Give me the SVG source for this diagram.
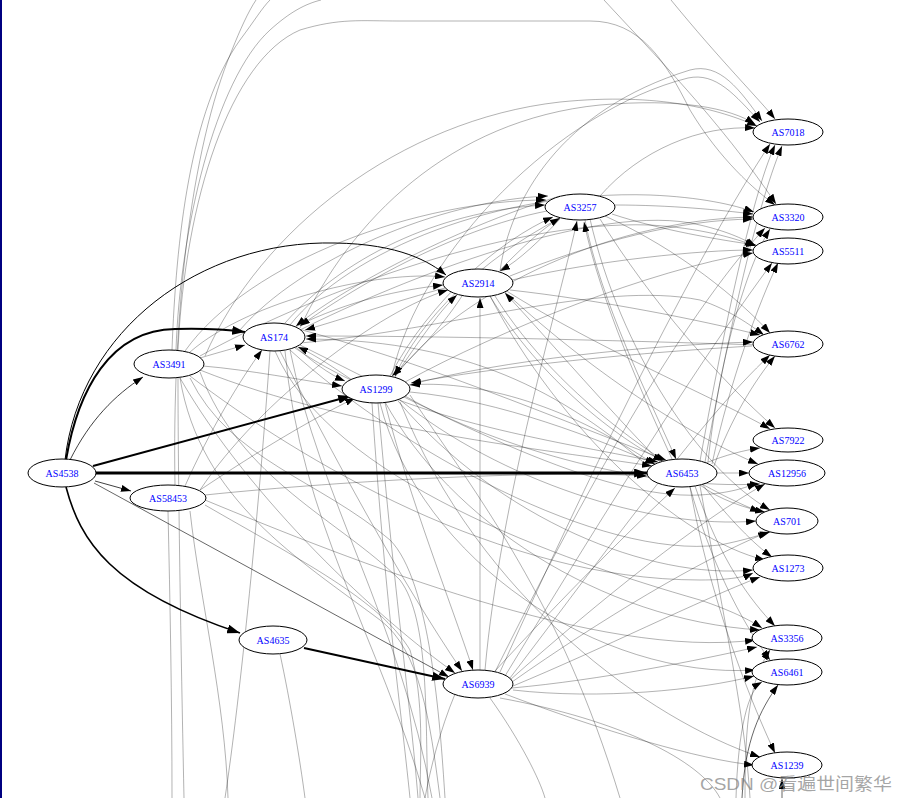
<svg xmlns="http://www.w3.org/2000/svg" width="907" height="798" viewBox="0 0 907 798">
<defs>
<style>
.e{fill:none;stroke:#000;stroke-opacity:.3;stroke-width:1}
.d{fill:none;stroke:#000;stroke-opacity:.6;stroke-width:1}
.b{fill:none;stroke:#000;stroke-width:2}
.n ellipse{fill:#fff;stroke:#000;stroke-width:1}
.n text{font-family:"Liberation Serif","Times New Roman",serif;font-size:10px;fill:#0000ff;text-anchor:middle}
</style>
<marker id="a" viewBox="0 0 10 7" refX="10" refY="3.5" markerWidth="10" markerHeight="7" orient="auto" markerUnits="userSpaceOnUse"><path d="M0,0 L10,3.5 L0,7 z" fill="#000"/></marker>
<marker id="ab" viewBox="0 0 10 7" refX="10" refY="3.5" markerWidth="13" markerHeight="9" orient="auto" markerUnits="userSpaceOnUse"><path d="M0,0 L10,3.5 L0,7 z" fill="#000"/></marker>
</defs>
<rect x="0" y="0" width="907" height="798" fill="#fff"/>
<rect x="0" y="0" width="2" height="798" fill="#000080"/>
<g id="connectors">
<path class="e" d="M178,350 C185,200 230,60 300,30 C340,18 360,21 400,21 L590,21 C640,21 665,60 690,110 C720,160 755,190 775,205" marker-end="url(#a)"/>
<path class="e" d="M172,350 C176,240 190,110 240,40 C255,20 262,8 270,0"/>
<path class="e" d="M176,350 C180,230 215,80 270,30 C290,12 305,4 321,0"/>
<path class="e" d="M175,485 C172,320 190,150 232,50 C240,30 248,12 256,0"/>
<path class="e" d="M604,0 C650,50 720,120 776,204" marker-end="url(#a)"/>
<path class="e" d="M671,0 C720,60 760,100 775,119" marker-end="url(#a)"/>
<path class="e" d="M500,271 C510,200 560,110 690,70 C720,62 740,90 762,121" marker-end="url(#a)"/>
<path class="e" d="M392,375 C420,250 560,110 688,78 C716,72 735,95 760,122" marker-end="url(#a)"/>
<path class="e" d="M300,328 C350,220 450,120 600,105 C680,98 730,108 755,124" marker-end="url(#a)"/>
<path class="e" d="M205,356 C260,230 400,120 560,102 C660,92 720,110 757,126" marker-end="url(#a)"/>
<path class="e" d="M600,196 C640,150 700,125 755,128" marker-end="url(#a)"/>
<path class="e" d="M700,461 C720,350 750,200 775,145" marker-end="url(#a)"/>
<path class="e" d="M705,462 C725,350 755,210 782,146" marker-end="url(#a)"/>
<path class="e" d="M500,672 C600,450 700,250 770,144" marker-end="url(#a)"/>
<path class="e" d="M290,325 C350,250 500,190 650,195 C700,197 735,205 754,212" marker-end="url(#a)"/>
<path class="e" d="M395,377 C450,300 600,220 753,217" marker-end="url(#a)"/>
<path class="e" d="M510,276 C600,240 680,220 753,219" marker-end="url(#a)"/>
<path class="e" d="M615,205 C670,205 720,210 753,214" marker-end="url(#a)"/>
<path class="e" d="M708,462 C720,350 750,260 770,229" marker-end="url(#a)"/>
<path class="e" d="M495,672 C580,500 680,320 765,228" marker-end="url(#a)"/>
<path class="e" d="M300,330 C400,280 600,200 700,225 C730,232 745,240 756,246" marker-end="url(#a)"/>
<path class="e" d="M405,382 C500,330 650,270 753,253" marker-end="url(#a)"/>
<path class="e" d="M512,280 C600,260 700,250 753,250" marker-end="url(#a)"/>
<path class="e" d="M612,214 C660,230 720,240 756,245" marker-end="url(#a)"/>
<path class="e" d="M712,464 C730,380 760,300 778,263" marker-end="url(#a)"/>
<path class="e" d="M505,676 C600,520 700,360 772,263" marker-end="url(#a)"/>
<path class="e" d="M200,356 C300,300 500,220 650,225 C700,228 735,238 755,246" marker-end="url(#a)"/>
<path class="e" d="M409,385 C500,360 650,345 753,342" marker-end="url(#a)"/>
<path class="e" d="M510,290 C600,300 700,320 760,335" marker-end="url(#a)"/>
<path class="e" d="M605,216 C680,250 740,300 770,333" marker-end="url(#a)"/>
<path class="e" d="M714,466 C730,420 755,380 775,356" marker-end="url(#a)"/>
<path class="e" d="M510,678 C600,560 700,420 770,355" marker-end="url(#a)"/>
<path class="e" d="M300,343 C450,330 600,280 700,300 C730,310 750,325 764,335" marker-end="url(#a)"/>
<path class="e" d="M600,219 C650,300 720,380 775,428" marker-end="url(#a)"/>
<path class="e" d="M505,290 C600,350 720,400 770,429" marker-end="url(#a)"/>
<path class="e" d="M706,463 C725,455 745,450 760,448" marker-end="url(#a)"/>
<path class="e" d="M717,473 L749,473" marker-end="url(#a)"/>
<path class="e" d="M405,396 C500,450 650,490 760,484" marker-end="url(#a)"/>
<path class="e" d="M300,345 C450,420 600,500 700,495 C730,493 745,488 757,483" marker-end="url(#a)"/>
<path class="e" d="M510,680 C600,600 700,520 765,484" marker-end="url(#a)"/>
<path class="e" d="M505,292 C600,380 700,440 758,464" marker-end="url(#a)"/>
<path class="e" d="M700,485 C720,500 745,508 765,512" marker-end="url(#a)"/>
<path class="e" d="M495,296 C560,400 680,480 760,512" marker-end="url(#a)"/>
<path class="e" d="M400,400 C500,480 650,530 756,521" marker-end="url(#a)"/>
<path class="e" d="M512,682 C600,620 700,560 768,532" marker-end="url(#a)"/>
<path class="e" d="M590,219 C620,350 700,470 770,510" marker-end="url(#a)"/>
<path class="e" d="M290,350 C400,450 600,560 720,545 C745,540 760,535 770,532" marker-end="url(#a)"/>
<path class="e" d="M702,484 C730,520 755,545 772,557" marker-end="url(#a)"/>
<path class="e" d="M398,401 C500,520 650,580 753,570" marker-end="url(#a)"/>
<path class="e" d="M513,686 C600,650 700,600 760,577" marker-end="url(#a)"/>
<path class="e" d="M190,376 C300,460 500,580 700,580 C730,580 745,577 753,573" marker-end="url(#a)"/>
<path class="e" d="M490,296 C560,430 680,540 765,560" marker-end="url(#a)"/>
<path class="e" d="M695,486 C720,560 750,600 775,626" marker-end="url(#a)"/>
<path class="e" d="M385,402 C450,520 600,620 760,630" marker-end="url(#a)"/>
<path class="e" d="M512,688 C600,680 700,660 757,647" marker-end="url(#a)"/>
<path class="e" d="M745,798 C745,720 750,680 770,650" marker-end="url(#a)"/>
<path class="e" d="M205,500 C350,560 600,660 755,640" marker-end="url(#a)"/>
<path class="e" d="M275,351 C330,480 560,560 700,600 C730,610 750,620 762,628" marker-end="url(#a)"/>
<path class="e" d="M690,487 C710,560 740,620 770,660" marker-end="url(#a)"/>
<path class="e" d="M513,690 C600,700 700,690 754,676" marker-end="url(#a)"/>
<path class="d" d="M742,798 C745,740 760,710 778,685" marker-end="url(#a)"/>
<path class="e" d="M380,403 C420,560 600,680 755,670" marker-end="url(#a)"/>
<path class="e" d="M736,798 C738,730 748,690 762,682" marker-end="url(#a)"/>
<path class="e" d="M690,487 C710,600 750,700 775,753" marker-end="url(#a)"/>
<path class="e" d="M505,694 C600,730 700,760 754,765" marker-end="url(#a)"/>
<path class="d" d="M782,798 L782,779" marker-end="url(#a)"/>
<path class="e" d="M400,402 C480,600 650,720 760,757" marker-end="url(#a)"/>
<path class="e" d="M295,348 C400,420 550,440 658,462" marker-end="url(#a)"/>
<path class="e" d="M410,392 C500,400 600,440 655,464" marker-end="url(#a)"/>
<path class="e" d="M490,296 C540,380 620,440 663,461" marker-end="url(#a)"/>
<path class="e" d="M585,220 C600,300 650,400 676,459" marker-end="url(#a)"/>
<path class="e" d="M672,459 C645,400 600,300 584,222" marker-end="url(#a)"/>
<path class="e" d="M200,370 C350,430 550,450 652,466" marker-end="url(#a)"/>
<path class="e" d="M205,495 C350,480 550,470 647,476" marker-end="url(#a)"/>
<path class="e" d="M495,671 C560,600 640,520 675,488" marker-end="url(#a)"/>
<path class="e" d="M287,326 C420,360 560,420 666,460" marker-end="url(#a)"/>
<path class="e" d="M295,327 C350,300 400,290 443,285" marker-end="url(#a)"/>
<path class="e" d="M395,376 C420,340 440,310 457,295" marker-end="url(#a)"/>
<path class="e" d="M462,296 C440,330 410,360 392,376" marker-end="url(#a)"/>
<path class="e" d="M560,219 C540,240 520,260 500,271" marker-end="url(#a)"/>
<path class="e" d="M500,270 C520,250 540,230 560,218" marker-end="url(#a)"/>
<path class="e" d="M190,352 C250,300 380,270 445,277" marker-end="url(#a)"/>
<path class="e" d="M480,670 C480,550 480,400 480,298" marker-end="url(#a)"/>
<path class="e" d="M660,462 C600,400 540,330 505,293" marker-end="url(#a)"/>
<path class="e" d="M200,490 C260,400 380,310 448,290" marker-end="url(#a)"/>
<path class="e" d="M285,323 C350,250 450,210 545,205" marker-end="url(#a)"/>
<path class="e" d="M390,376 C430,300 500,240 553,217" marker-end="url(#a)"/>
<path class="e" d="M185,351 C250,260 420,200 546,200" marker-end="url(#a)"/>
<path class="e" d="M485,670 C500,500 560,300 577,221" marker-end="url(#a)"/>
<path class="e" d="M240,330 C300,260 440,200 548,196" marker-end="url(#a)"/>
<path class="e" d="M445,288 C400,300 340,320 305,330" marker-end="url(#a)"/>
<path class="e" d="M547,211 C450,230 350,290 300,326" marker-end="url(#a)"/>
<path class="e" d="M650,468 C550,380 450,340 306,339" marker-end="url(#a)"/>
<path class="e" d="M760,345 C600,340 450,336 306,336" marker-end="url(#a)"/>
<path class="e" d="M352,380 C330,365 315,355 298,347" marker-end="url(#a)"/>
<path class="e" d="M185,486 C210,430 240,380 262,350" marker-end="url(#a)"/>
<path class="e" d="M200,358 C220,352 235,348 245,345" marker-end="url(#a)"/>
<path class="e" d="M560,196 C450,230 340,290 296,326" marker-end="url(#a)"/>
<path class="e" d="M296,347 C310,360 330,375 345,381" marker-end="url(#a)"/>
<path class="e" d="M203,366 C250,370 300,380 342,386" marker-end="url(#a)"/>
<path class="e" d="M200,490 C260,450 310,420 355,398" marker-end="url(#a)"/>
<path class="e" d="M560,218 C480,260 420,320 395,376" marker-end="url(#a)"/>
<path class="e" d="M655,465 C560,400 470,380 410,385" marker-end="url(#a)"/>
<path class="e" d="M752,346 C600,355 480,370 411,383" marker-end="url(#a)"/>
<path class="e" d="M385,403 C410,500 450,600 473,670" marker-end="url(#a)"/>
<path class="e" d="M280,351 C330,450 400,580 462,671" marker-end="url(#a)"/>
<path class="e" d="M180,378 C250,500 380,620 455,673" marker-end="url(#a)"/>
<path class="e" d="M168,511 C170,600 172,700 172,798"/>
<path class="e" d="M190,511 C200,600 225,700 228,798"/>
<path class="e" d="M280,654 C290,700 300,760 305,798"/>
<path class="e" d="M270,351 C260,500 240,700 225,798"/>
<path class="e" d="M378,403 C395,600 410,700 418,798"/>
<path class="e" d="M372,403 C385,600 400,700 410,798"/>
<path class="e" d="M285,351 C300,520 380,640 425,798"/>
<path class="e" d="M290,350 C320,500 400,620 432,798"/>
<path class="e" d="M180,378 C200,500 300,560 380,620 C420,650 430,720 440,798"/>
<path class="e" d="M200,372 C240,480 340,520 400,580 C430,620 425,720 428,798"/>
<path class="e" d="M205,505 C300,560 380,600 410,650 C425,700 420,760 420,798"/>
<path class="e" d="M190,378 C230,460 320,480 390,540 C430,580 440,720 445,798"/>
<path class="e" d="M490,698 C520,740 540,780 545,798"/>
<path class="e" d="M455,694 C440,730 430,770 425,798"/>
<path class="e" d="M700,486 C730,650 745,720 750,798"/>
<path class="e" d="M720,798 C700,760 620,720 500,698"/>
<path class="e" d="M410,395 C480,500 560,600 620,798"/>
<path class="e" d="M178,377 C178,500 182,700 184,798"/>
<path class="b" d="M66,460 C78,390 110,330 175,329 C210,328 230,330 245,332" marker-end="url(#ab)"/>
<path class="b" style="stroke-width:1" d="M65,460 C80,330 200,240 335,243 C400,244 430,262 446,275" marker-end="url(#a)"/>
<path class="d" style="stroke-opacity:.75" d="M70,460 C90,420 115,395 143,377" marker-end="url(#a)"/>
<path class="b" d="M93,466 L351,396" marker-end="url(#ab)"/>
<path class="b" style="stroke-width:3" d="M96,473 L647,473" marker-end="url(#ab)"/>
<path class="d" style="stroke-opacity:.75" d="M95,481 L131,491" marker-end="url(#a)"/>
<path class="b" style="stroke-width:1.6" d="M66,487 C80,540 110,590 240,633" marker-end="url(#ab)"/>
<path class="d" d="M94,483 L449,677" marker-end="url(#a)"/>
<path class="b" d="M304,648 L445,679" marker-end="url(#ab)"/>
</g>
<g id="n-AS4538" class="n"><ellipse cx="62" cy="473" rx="34" ry="14"/><text x="62" y="476.5">AS4538</text></g>
<g id="n-AS3491" class="n"><ellipse cx="169" cy="364" rx="35" ry="14"/><text x="169" y="367.5">AS3491</text></g>
<g id="n-AS58453" class="n"><ellipse cx="168" cy="498" rx="38" ry="13"/><text x="168" y="501.5">AS58453</text></g>
<g id="n-AS174" class="n"><ellipse cx="274" cy="337" rx="31" ry="14"/><text x="274" y="340.5">AS174</text></g>
<g id="n-AS1299" class="n"><ellipse cx="376" cy="389" rx="34" ry="14"/><text x="376" y="392.5">AS1299</text></g>
<g id="n-AS2914" class="n"><ellipse cx="478" cy="283" rx="35" ry="14"/><text x="478" y="286.5">AS2914</text></g>
<g id="n-AS3257" class="n"><ellipse cx="580" cy="207" rx="35" ry="13"/><text x="580" y="210.5">AS3257</text></g>
<g id="n-AS4635" class="n"><ellipse cx="273" cy="640" rx="34" ry="14"/><text x="273" y="643.5">AS4635</text></g>
<g id="n-AS6939" class="n"><ellipse cx="478" cy="684" rx="35" ry="14"/><text x="478" y="687.5">AS6939</text></g>
<g id="n-AS6453" class="n"><ellipse cx="682" cy="473" rx="35" ry="14"/><text x="682" y="476.5">AS6453</text></g>
<g id="n-AS7018" class="n"><ellipse cx="788" cy="132" rx="35" ry="13"/><text x="788" y="135.5">AS7018</text></g>
<g id="n-AS3320" class="n"><ellipse cx="788" cy="217" rx="35" ry="13"/><text x="788" y="220.5">AS3320</text></g>
<g id="n-AS5511" class="n"><ellipse cx="788" cy="251" rx="35" ry="13"/><text x="788" y="254.5">AS5511</text></g>
<g id="n-AS6762" class="n"><ellipse cx="788" cy="344" rx="35" ry="13"/><text x="788" y="347.5">AS6762</text></g>
<g id="n-AS7922" class="n"><ellipse cx="788" cy="440" rx="35" ry="12"/><text x="788" y="443.5">AS7922</text></g>
<g id="n-AS12956" class="n"><ellipse cx="787" cy="473" rx="38" ry="13"/><text x="787" y="476.5">AS12956</text></g>
<g id="n-AS701" class="n"><ellipse cx="787" cy="521" rx="31" ry="13"/><text x="787" y="524.5">AS701</text></g>
<g id="n-AS1273" class="n"><ellipse cx="788" cy="568" rx="35" ry="13"/><text x="788" y="571.5">AS1273</text></g>
<g id="n-AS3356" class="n"><ellipse cx="787" cy="638" rx="35" ry="13"/><text x="787" y="641.5">AS3356</text></g>
<g id="n-AS6461" class="n"><ellipse cx="787" cy="672" rx="35" ry="13"/><text x="787" y="675.5">AS6461</text></g>
<g id="n-AS1239" class="n"><ellipse cx="787" cy="765" rx="35" ry="13"/><text x="787" y="768.5">AS1239</text></g>
<text x="700" y="790" font-family="'Liberation Sans','Noto Sans CJK SC',sans-serif" font-size="17" fill="#888" fill-opacity="0.75" textLength="192" lengthAdjust="spacingAndGlyphs">CSDN @看遍世间繁华</text>
</svg>
